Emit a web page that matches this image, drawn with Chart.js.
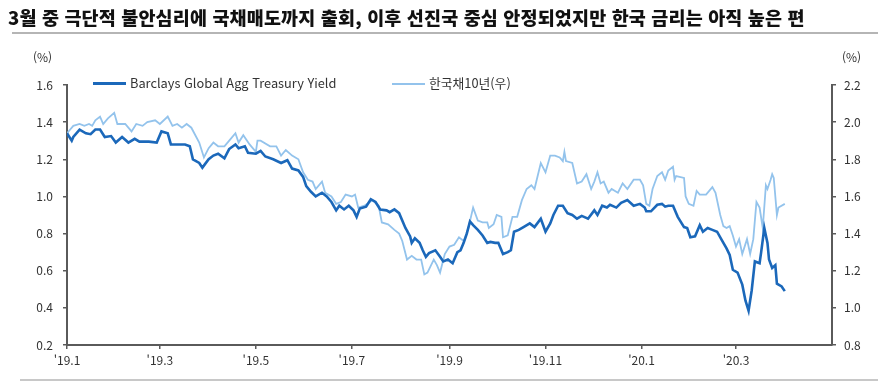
<!DOCTYPE html>
<html lang="ko">

<head>
    <meta charset="UTF-8" />
    <title>Barclays vs 한국채10년</title>
    <script src="https://cdn.jsdelivr.net/npm/chart.js"></script>
    <style>
        body { margin: 0; background: #fff; font-family: "Noto Sans CJK KR", sans-serif; color: #333; }
        #wrap { position: relative; width: 890px; height: 387px; }
        #wrap canvas { position: absolute; left: 0; top: 0; }
        .title { position: absolute; left: 8px; top: 4px; font-size: 18.5px; font-weight: 900; color: #111; letter-spacing: 0.15px; white-space: nowrap; }
        .rule1 { position: absolute; left: 12px; top: 32px; width: 866px; height: 2px; background: #b5b5b5; }
        .rule2 { position: absolute; left: 20px; top: 379px; width: 858px; height: 2px; background: #c8c8c8; }
        .unit { position: absolute; top: 48px; font-size: 12px; color: #333; }
        .leg { position: absolute; top: 73px; font-size: 12.8px; color: #333; white-space: nowrap; }
        .leg span { display: inline-block; width: 33px; vertical-align: middle; margin-right: 4px; position: relative; top: -1px; }
    </style>
</head>

<body>
    <div id="wrap">
        <canvas id="yieldChart" width="890" height="387"></canvas>
        <div class="title">3월 중 극단적 불안심리에 국채매도까지 출회, 이후 선진국 중심 안정되었지만 한국 금리는 아직 높은 편</div>
        <div class="rule1"></div>
        <div class="rule2"></div>
        <div class="unit" style="left:33px">(%)</div>
        <div class="unit" style="left:842px">(%)</div>
        <div class="leg" style="left:93px"><span style="border-top:3px solid #1b68ba"></span>Barclays Global Agg Treasury Yield</div>
        <div class="leg" style="left:392px"><span style="border-top:2px solid #93c3ec"></span>한국채10년(우)</div>
    </div>

    <script>
        // days counted from 2019-01-01
        const tickDays = [0, 59, 120, 181, 243, 304, 365, 425];
        const tickLabels = ["'19.1", "'19.3", "'19.5", "'19.7", "'19.9", "'19.11", "'20.1", "'20.3"];

        const barclaysDays = [0, 3, 4, 8, 12, 15, 18, 21, 24, 28, 31, 35, 39, 43, 46, 52, 57, 60, 64, 66,
            71, 75, 78, 80, 84, 86, 90, 93, 96, 100, 103, 107, 109, 113, 115, 120, 123, 126, 131, 136,
            140, 143, 147, 150, 152, 155, 158, 162, 165, 168, 171, 173, 176, 179, 182, 184, 186, 190, 193, 196,
            199, 203, 205, 208, 211, 215, 218, 219, 221, 224, 226, 228, 230, 234, 237, 239, 242, 245, 248, 250,
            252, 254, 256, 258, 261, 264, 267, 269, 272, 274, 277, 280, 282, 284, 287, 290, 294, 297, 301, 304,
            307, 309, 312, 315, 318, 321, 324, 327, 331, 335, 337, 340, 343, 345, 349, 352, 356, 360, 364, 367,
            368, 371, 375, 378, 380, 382, 385, 388, 392, 394, 396, 399, 402, 404, 407, 410, 413, 416, 419, 421,
            423, 426, 429, 431, 433, 435, 437, 440, 441, 443, 445, 446, 448, 450, 451, 454, 456];
        const barclaysYield = [1.34, 1.30, 1.32, 1.36, 1.34, 1.335, 1.36, 1.36, 1.32, 1.325, 1.29, 1.32, 1.29, 1.31, 1.295, 1.295, 1.29, 1.35, 1.34, 1.28,
            1.28, 1.28, 1.27, 1.20, 1.18, 1.155, 1.20, 1.22, 1.23, 1.205, 1.255, 1.28, 1.26, 1.27, 1.235, 1.23, 1.245, 1.215, 1.20, 1.18,
            1.195, 1.15, 1.14, 1.105, 1.055, 1.025, 1.00, 1.02, 1.00, 0.97, 0.925, 0.95, 0.93, 0.95, 0.925, 0.89, 0.935, 0.945, 0.985, 0.97,
            0.93, 0.925, 0.915, 0.93, 0.91, 0.83, 0.785, 0.75, 0.775, 0.75, 0.71, 0.675, 0.695, 0.71, 0.675, 0.65, 0.66, 0.64, 0.70, 0.71,
            0.75, 0.80, 0.865, 0.845, 0.82, 0.79, 0.75, 0.755, 0.75, 0.75, 0.69, 0.70, 0.71, 0.81, 0.82, 0.835, 0.855, 0.835, 0.88, 0.81,
            0.855, 0.90, 0.95, 0.95, 0.91, 0.90, 0.88, 0.895, 0.88, 0.925, 0.90, 0.95, 0.94, 0.955, 0.94, 0.965, 0.98, 0.95, 0.96, 0.94,
            0.92, 0.92, 0.955, 0.96, 0.945, 0.95, 0.95, 0.89, 0.835, 0.83, 0.78, 0.785, 0.845, 0.81, 0.83, 0.82, 0.81, 0.765, 0.72, 0.685,
            0.605, 0.59, 0.525, 0.44, 0.385, 0.495, 0.65, 0.64, 0.70, 0.83, 0.75, 0.66, 0.615, 0.63, 0.53, 0.515, 0.49];

        const koreaDays = [0, 4, 8, 11, 14, 16, 18, 21, 23, 26, 30, 32, 37, 41, 44, 48, 51, 56, 59, 64,
            67, 70, 73, 76, 79, 84, 87, 90, 93, 96, 100, 104, 107, 109, 112, 116, 120, 121, 123, 129,
            133, 136, 139, 143, 147, 150, 153, 156, 158, 162, 164, 168, 171, 174, 177, 181, 183, 185, 189, 194,
            198, 200, 204, 208, 211, 213, 216, 219, 222, 225, 227, 229, 233, 235, 237, 240, 243, 246, 249, 252,
            255, 258, 261, 264, 267, 268, 271, 273, 276, 277, 280, 283, 286, 289, 292, 295, 297, 299, 301, 304,
            307, 310, 313, 315, 316, 317, 321, 324, 327, 330, 333, 335, 337, 339, 341, 344, 346, 350, 353, 356,
            360, 364, 366, 368, 370, 372, 375, 378, 380, 382, 385, 386, 387, 392, 393, 395, 398, 400, 402, 406,
            410, 412, 415, 417, 419, 421, 423, 425, 427, 429, 432, 434, 436, 438, 440, 442, 444, 445, 447, 448,
            449, 451, 452, 456];
        const koreaYield = [1.94, 1.98, 1.99, 1.98, 1.99, 1.98, 2.01, 2.03, 1.99, 2.02, 2.05, 1.99, 1.99, 1.95, 1.99, 1.98, 2.00, 2.01, 1.99, 2.03,
            1.98, 1.99, 1.97, 1.99, 1.97, 1.89, 1.81, 1.86, 1.89, 1.87, 1.87, 1.91, 1.94, 1.89, 1.93, 1.88, 1.84, 1.90, 1.90, 1.87,
            1.87, 1.82, 1.85, 1.82, 1.80, 1.73, 1.69, 1.68, 1.64, 1.68, 1.62, 1.60, 1.56, 1.57, 1.61, 1.60, 1.61, 1.54, 1.55, 1.58,
            1.55, 1.46, 1.45, 1.42, 1.40, 1.36, 1.26, 1.28, 1.26, 1.26, 1.18, 1.19, 1.26, 1.23, 1.19, 1.29, 1.33, 1.34, 1.38, 1.36,
            1.43, 1.54, 1.47, 1.46, 1.46, 1.43, 1.45, 1.50, 1.49, 1.38, 1.39, 1.49, 1.49, 1.58, 1.64, 1.66, 1.64, 1.71, 1.78, 1.73,
            1.82, 1.82, 1.81, 1.79, 1.84, 1.79, 1.78, 1.67, 1.68, 1.72, 1.64, 1.68, 1.73, 1.67, 1.68, 1.62, 1.64, 1.62, 1.67, 1.64,
            1.69, 1.69, 1.66, 1.56, 1.55, 1.64, 1.71, 1.73, 1.69, 1.74, 1.76, 1.69, 1.71, 1.70, 1.60, 1.56, 1.55, 1.63, 1.61, 1.61,
            1.65, 1.62, 1.50, 1.44, 1.43, 1.44, 1.39, 1.33, 1.37, 1.29, 1.37, 1.29, 1.37, 1.57, 1.54, 1.43, 1.66, 1.64, 1.69, 1.72,
            1.70, 1.50, 1.54, 1.56];

        const axisFont = { family: "'Noto Sans CJK KR', sans-serif", size: 12 };
        const axisColor = "#5a5a5a";

        new Chart(document.getElementById("yieldChart"), {
            type: "line",
            data: {
                datasets: [{
                    label: "Barclays Global Agg Treasury Yield",
                    data: barclaysDays.map((d, i) => ({ x: d, y: barclaysYield[i] })),
                    borderColor: "#1b68ba",
                    borderWidth: 2.6,
                    pointRadius: 0,
                    yAxisID: "y",
                    order: 1
                }, {
                    label: "한국채10년(우)",
                    data: koreaDays.map((d, i) => ({ x: d, y: koreaYield[i] })),
                    borderColor: "#93c3ec",
                    borderWidth: 1.8,
                    pointRadius: 0,
                    yAxisID: "y2",
                    order: 2
                }]
            },
            options: {
                responsive: false,
                animation: false,
                layout: { padding: { top: 85, left: 0, right: 0, bottom: 0 } },
                plugins: { legend: { display: false }, tooltip: { enabled: false } },
                scales: {
                    x: {
                        type: "linear",
                        min: 0,
                        max: 486,
                        afterBuildTicks: s => { s.ticks = tickDays.map(v => ({ value: v })); },
                        afterFit: s => { s.height = 42; },
                        ticks: {
                            callback: (v, i) => tickLabels[i],
                            font: axisFont, color: "#333", padding: 4, maxRotation: 0, autoSkip: false
                        },
                        grid: { drawOnChartArea: false, tickLength: 4, color: axisColor, lineWidth: 1.5 },
                        border: { color: axisColor, width: 2 }
                    },
                    y: {
                        position: "left",
                        min: 0.2, max: 1.6,
                        afterFit: s => { s.width = 67; },
                        ticks: { stepSize: 0.2, callback: v => v.toFixed(1), font: axisFont, color: "#333", padding: 10 },
                        grid: { drawOnChartArea: false, tickLength: 4, color: axisColor, lineWidth: 1.5 },
                        border: { color: axisColor, width: 2 }
                    },
                    y2: {
                        position: "right",
                        min: 0.8, max: 2.2,
                        afterFit: s => { s.width = 58; },
                        ticks: { stepSize: 0.2, callback: v => v.toFixed(1), font: axisFont, color: "#333", padding: 8 },
                        grid: { drawOnChartArea: false, tickLength: 4, color: axisColor, lineWidth: 1.5 },
                        border: { color: axisColor, width: 2 }
                    }
                }
            }
        });
    </script>
</body>

</html>
